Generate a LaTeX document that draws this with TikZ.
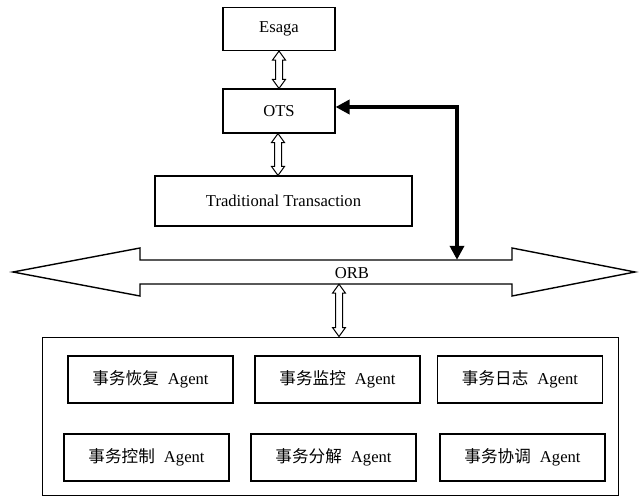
\documentclass[tikz,border=0pt]{standalone}
\usepackage{fontspec}
\setmainfont{Liberation Serif}
\newfontfamily\cjk{Noto Sans CJK SC}
\usetikzlibrary{arrows.meta,calc}
\newcommand\hollowdbl[2]{%
  \draw[hollowarrow] let \p1=(#1), \p2=(#2) in
    (\x1,\y1) -- (\x1+6.5pt,\y1-9pt) -- (\x1+3.5pt,\y1-9pt) -- (\x1+3.5pt,\y2+9pt)
    -- (\x1+6.5pt,\y2+9pt) -- (\x1,\y2) -- (\x1-6.5pt,\y2+9pt) -- (\x1-3.5pt,\y2+9pt)
    -- (\x1-3.5pt,\y1-9pt) -- (\x1-6.5pt,\y1-9pt) -- cycle;}
\begin{document}
\begin{tikzpicture}[x=1pt,y=-1pt,
  txt/.style={font=\fontsize{16.6}{19}\selectfont},
  box/.style={draw, line width=1.1pt, inner sep=0pt, txt},
  agent/.style={box, minimum width=165pt, minimum height=47pt},
  hollowarrow/.style={draw, line width=1pt, fill=white, line join=miter},
  orbarrow/.style={draw, line width=1.4pt, fill=white, line join=miter},
  thickarrow/.style={line width=4pt, line join=miter,
    {Triangle[length=14pt,width=14pt]}-{Triangle[length=14pt,width=14pt]}}]
\useasboundingbox (0,0) rectangle (644,497);

\node[box, minimum width=112pt, minimum height=43pt] (esaga) at (279,29) {Esaga};
\node[box, minimum width=112pt, minimum height=44pt] (ots) at (279,111) {OTS};
\node[box, minimum width=257pt, minimum height=50pt] (tt) at (283.5,201) {Traditional Transaction};

% ORB double arrow
\draw[orbarrow] (13,272) -- (140,248) -- (140,260) -- (512,260) -- (512,248) -- (635,272)
  -- (512,296) -- (512,284) -- (140,284) -- (140,296) -- cycle;
\node[inner sep=0pt, minimum width=372pt, minimum height=24pt] (orb) at (326,272) {};
\node[txt, inner sep=0pt] (orbtext) at (352,273) {ORB};

% container
\node[draw, line width=1pt, minimum width=576pt, minimum height=158pt] (agents) at (330,416) {};

\node[agent] (a1) at (150.5,379.5) {{\cjk 事务恢复}\hspace{0.55em}Agent};
\node[agent] (a2) at (337.5,379.5) {{\cjk 事务监控}\hspace{0.55em}Agent};
\node[agent] (a3) at (520,379.5) {{\cjk 事务日志}\hspace{0.55em}Agent};
\node[agent] (a4) at (146.5,457.5) {{\cjk 事务控制}\hspace{0.55em}Agent};
\node[agent] (a5) at (333.5,457.5) {{\cjk 事务分解}\hspace{0.55em}Agent};
\node[agent] (a6) at (522.5,457.5) {{\cjk 事务协调}\hspace{0.55em}Agent};

% hollow double arrows
\hollowdbl{esaga.south}{ots.north}
\hollowdbl{[xshift=-1pt]ots.south}{tt.north}
\hollowdbl{[xshift=13pt]orb.south}{agents.north}

% thick arrow
\coordinate (bend) at (457,107);
\draw[thickarrow] (ots.east |- bend) -- (bend) -- (bend |- orb.north);
\end{tikzpicture}
\end{document}
